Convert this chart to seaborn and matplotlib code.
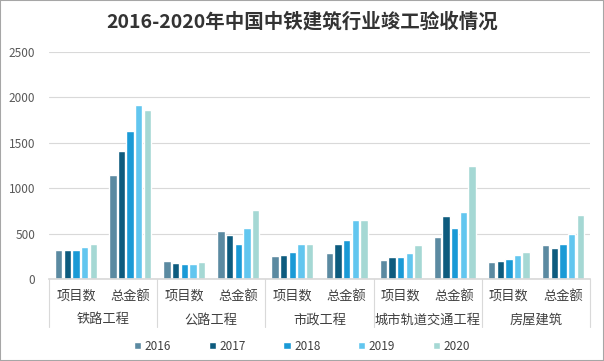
import matplotlib
matplotlib.use('Agg')
import matplotlib.pyplot as plt
import seaborn as sns
import pandas as pd
from matplotlib.patches import Rectangle

# 数据
groups = ['铁路工程', '公路工程', '市政工程', '城市轨道交通工程', '房屋建筑']
sub_items = ['项目数', '总金额']
years = ['2016', '2017', '2018', '2019', '2020']
v2016 = [320, 1150, 195, 525, 250, 285, 205, 460, 185, 370]
v2017 = [320, 1415, 175, 480, 260, 385, 240, 690, 195, 340]
v2018 = [320, 1630, 165, 385, 295, 430, 240, 560, 220, 385]
v2019 = [355, 1915, 165, 560, 380, 650, 285, 735, 260, 495]
v2020 = [380, 1860, 185, 760, 380, 650, 370, 1240, 295, 705]
colors = ['#5b8aa1', '#0d5b7e', '#1a9ad6', '#62c6ef', '#a5d8d4']

slots = [f'{g}-{s}' for g in groups for s in sub_items]
rows = []
for year, vals in zip(years, [v2016, v2017, v2018, v2019, v2020]):
    for slot, v in zip(slots, vals):
        rows.append({'slot': slot, 'year': year, 'value': v})
df = pd.DataFrame(rows)

sns.set_theme(style='white')
plt.rcParams['font.family'] = ['Noto Sans CJK SC', 'DejaVu Sans']

fig = plt.figure(figsize=(6.04, 3.61), dpi=100)
ax = fig.add_axes([49 / 604, 1 - 279 / 361, 541 / 604, 227 / 361])

sns.barplot(data=df, x='slot', y='value', hue='year', order=slots, hue_order=years,
            palette=colors, width=0.8, gap=0.15, ax=ax, saturation=1)

ax.set_ylim(0, 2500)
ax.set_xlim(-0.5, len(slots) - 0.5)
ax.set_yticks([0, 500, 1000, 1500, 2000, 2500])
ax.yaxis.grid(True, color='#d9d9d9', linewidth=0.8)
ax.set_axisbelow(True)
for s in ['top', 'right', 'left']:
    ax.spines[s].set_visible(False)
ax.spines['bottom'].set_color('#d9d9d9')
ax.set_xlabel('')
ax.set_ylabel('')
ax.tick_params(axis='y', length=0, labelsize=8.5, labelcolor='#595959', pad=10)
ax.tick_params(axis='x', length=0, labelsize=9.5, labelcolor='#404040', pad=8)
ax.set_xticks(range(len(slots)))
ax.set_xticklabels(sub_items * len(groups))

# 分组标签和分隔线
trans = ax.get_xaxis_transform()
for i, g in enumerate(groups):
    ax.text(2 * i + 0.5, -41 / 227, g, transform=trans, ha='center', va='center',
            fontsize=9.5, color='#404040')
for i in range(len(groups) + 1):
    ax.plot([2 * i - 0.5, 2 * i - 0.5], [0, -48 / 227], transform=trans,
            color='#d9d9d9', lw=0.8, clip_on=False)

handles, labels = ax.get_legend_handles_labels()
ax.get_legend().remove()
fig.legend(handles, labels, loc='center', bbox_to_anchor=(0.5, 1 - 346 / 361), ncol=5,
           frameon=False, handlelength=0.6, handleheight=0.6, handletextpad=0.3,
           columnspacing=3.2, fontsize=8.5, labelcolor='#404040')

fig.text(0.5, 1 - 22 / 361, '2016-2020年中国中铁建筑行业竣工验收情况', ha='center', va='center',
         fontsize=14, fontweight='bold', color='#333333')

fig.patches.append(Rectangle((0, 0), 1, 1, transform=fig.transFigure, fill=False,
                             edgecolor='#a6a6a6', lw=1.5))

fig.savefig('out.png', dpi=100)
